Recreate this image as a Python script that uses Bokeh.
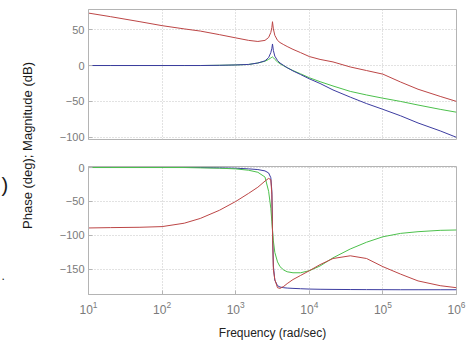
import math
from bokeh.plotting import figure
from bokeh.layouts import row, column
from bokeh.models import Range1d, FixedTicker, ColumnDataSource
from bokeh.core.properties import value
from bokeh.embed import file_html
from bokeh.resources import INLINE

# ---------------- data ----------------
freq = [10, 20, 50, 100, 200, 330, 600, 1000, 1500, 2000, 2500, 2800, 3000, 3100,
        3162, 3250, 3400, 3700, 4000, 4500, 5000, 6000, 7600, 10000, 14000, 21000,
        36000, 60000, 100000, 174000, 300000, 600000, 1000000]

mag_red = [73, 68, 61, 55.5, 51, 48, 43, 38.5, 35, 33.5, 35, 39, 46, 53,
           61, 51, 42, 35, 32, 29, 26.5, 22.5, 18, 12.5, 8.5, 5,
           -2, -7, -12, -23, -33, -43, -50]
mag_blue = [0, 0, 0, 0, 0, 0, 0.3, 0.8, 1.5, 3.5, 6.5, 11, 18, 24,
            30, 21, 13, 7, 3.5, 0, -3, -7.5, -12.5, -18.5, -25, -34,
            -44, -53, -61, -70, -80, -91, -100]
mag_green = [0, 0, 0, 0, 0, 0, 0.3, 0.8, 1.5, 3.5, 6, 8.5, 10.5, 11.5,
             12, 11, 8.5, 5, 2.5, -0.5, -3, -7, -11.5, -17, -22.5, -28.5,
             -36, -41, -45.5, -50, -55, -61, -65]

ph_red = [-89, -88.5, -88, -87, -82, -75, -63, -50, -38, -29, -20, -16, -18, -40,
          -95, -150, -165, -177, -178, -175, -171, -165, -159, -152, -143, -134,
          -130, -134, -146, -157, -167, -174, -177]
ph_blue = [0, 0, 0, 0, 0, 0, -0.5, -1, -2, -3, -5, -8, -15, -35,
           -90, -145, -166, -174, -176, -177, -177.5, -178, -178.5, -179, -179.3, -179.5,
           -179.7, -179.8, -179.9, -180, -180, -180, -180]
ph_green = [0, 0, 0, 0, 0, -0.5, -1, -2, -4, -7, -14, -35, -60, -80,
            -92, -108, -125, -139, -146, -151, -153.5, -155, -155, -152, -145, -133,
            -120, -110, -102, -97, -94.5, -92.5, -92]

x_ticks = [10, 100, 1000, 10000, 100000, 1000000]
mag_ticks = [-100, -50, 0, 50]
ph_ticks = [-150, -100, -50, 0]

x_label = "Frequency (rad/sec)"
y_label = "Phase (deg); Magnitude (dB)"

RED = "#bc4646"
BLUE = "#3c3ca0"
GREEN = "#4cc04c"
FONT = "Liberation Sans"

W, H = 472, 343
LEFT = 44
PW = W - LEFT

src = ColumnDataSource(dict(f=freq, mr=mag_red, mb=mag_blue, mg=mag_green,
                            pr=ph_red, pb=ph_blue, pg=ph_green))


def style(p):
    p.outline_line_color = "#b4b4b4"
    p.outline_line_width = 1
    p.background_fill_color = "white"
    p.border_fill_color = "white"
    for ax in list(p.xaxis) + list(p.yaxis):
        ax.axis_line_color = "#b4b4b4"
        ax.major_tick_line_color = "#b4b4b4"
        ax.major_tick_in = 4
        ax.major_tick_out = 0
        ax.minor_tick_line_color = None
        ax.major_label_text_font = FONT
        ax.major_label_text_color = "#7a7a7a"
        ax.major_label_text_font_size = "11px"
        ax.major_label_standoff = 4
    p.xaxis.ticker = FixedTicker(ticks=x_ticks)
    p.xgrid.ticker = FixedTicker(ticks=x_ticks)
    for g in list(p.xgrid) + list(p.ygrid):
        g.grid_line_color = "#c4c4c4"
        g.grid_line_dash = "1 2"
        g.grid_line_width = 1


top = figure(width=PW, height=152, x_axis_type="log",
             x_range=Range1d(10, 1e6), y_range=Range1d(-103, 78),
             output_backend="svg", toolbar_location=None,
             min_border_left=LEFT, min_border_right=16,
             min_border_top=9, min_border_bottom=13)
style(top)
top.xaxis.visible = False
top.yaxis.ticker = FixedTicker(ticks=mag_ticks)
top.ygrid.ticker = FixedTicker(ticks=mag_ticks)
top.line("f", "mr", source=src, line_color=RED, line_width=1)
top.line("f", "mg", source=src, line_color=GREEN, line_width=1)
top.line("f", "mb", source=src, line_color=BLUE, line_width=1)

bot = figure(width=PW, height=H - 152, x_axis_type="log",
             x_range=Range1d(10, 1e6), y_range=Range1d(-187, 1.5),
             output_backend="svg", toolbar_location=None,
             min_border_left=LEFT, min_border_right=16,
             min_border_top=14, min_border_bottom=49)
style(bot)
bot.yaxis.ticker = FixedTicker(ticks=ph_ticks)
bot.ygrid.ticker = FixedTicker(ticks=ph_ticks)
bot.xaxis.axis_label = x_label
bot.xaxis.axis_label_text_font = FONT
bot.xaxis.axis_label_text_font_style = "normal"
bot.xaxis.axis_label_text_font_size = "12px"
bot.xaxis.axis_label_text_color = "#222222"
bot.xaxis.axis_label_standoff = 9
bot.xaxis.major_label_standoff = 6
bot.xaxis.major_label_text_font_size = "12px"
bot.line("f", "pb", source=src, line_color=BLUE, line_width=1)
bot.line("f", "pg", source=src, line_color=GREEN, line_width=1)
bot.line("f", "pr", source=src, line_color=RED, line_width=1)

# left strip holding the shared y label
lab = figure(width=LEFT, height=H, x_range=Range1d(0, LEFT), y_range=Range1d(0, H),
             output_backend="svg", toolbar_location=None,
             min_border=0, min_border_left=0, min_border_right=0,
             min_border_top=0, min_border_bottom=0)
lab.axis.visible = False
lab.grid.visible = False
lab.outline_line_color = None
lab.background_fill_color = "white"
lab.border_fill_color = "white"
lab.text(x=[27], y=[H - 145], text=[y_label], angle=math.pi / 2,
         text_align="center", text_baseline="middle",
         text_font=value(FONT), text_font_size="13px", text_color="#1a1a1a")
lab.text(x=[1], y=[H - 184], text=[")"], text_align="left", text_baseline="middle",
         text_font=value(FONT), text_font_size="20px", text_color="#1a1a1a")
lab.text(x=[1], y=[H - 275], text=["."], text_align="left", text_baseline="middle",
         text_font=value(FONT), text_font_size="12px", text_color="#1a1a1a")

layout = row(lab, column(top, bot))
open("out.html", "w").write(file_html(layout, INLINE))
